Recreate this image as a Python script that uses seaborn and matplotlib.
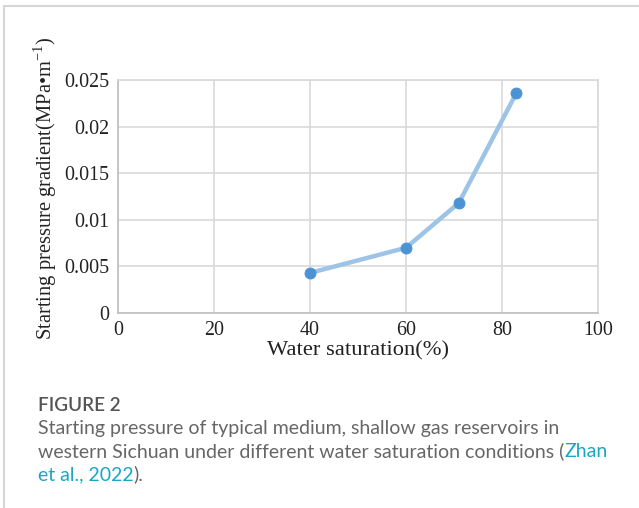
import matplotlib
matplotlib.use("Agg")
import matplotlib.pyplot as plt
import seaborn as sns
import pandas as pd
from matplotlib.lines import Line2D

# ---- data ----
water_saturation = [40, 60, 71, 83]
start_gradient = [0.0043, 0.0070, 0.0118, 0.0236]
x_ticks = [0, 20, 40, 60, 80, 100]
y_ticks = [0, 0.005, 0.01, 0.015, 0.02, 0.025]
y_tick_labels = ["0", "0.005", "0.01", "0.015", "0.02", "0.025"]

sns.set_theme(style="white")
plt.rcParams["font.family"] = ["Liberation Serif", "DejaVu Serif"]
plt.rcParams["mathtext.fontset"] = "custom"
plt.rcParams["mathtext.rm"] = "Liberation Serif"

W, H = 639, 508
fig = plt.figure(figsize=(W / 100, H / 100), dpi=100)
fig.patch.set_facecolor("white")

ax = fig.add_axes([118 / W, 1 - 313 / H, 480 / W, 233 / H])
df = pd.DataFrame({"x": water_saturation, "y": start_gradient})
sns.lineplot(data=df, x="x", y="y", ax=ax, color="#9DC3E6", linewidth=3.2,
             marker="o", markersize=7.8, markerfacecolor="#4C93D6",
             markeredgecolor="#4C93D6", zorder=3)

ax.set_xlim(0, 100)
ax.set_ylim(0, 0.025)
ax.set_xticks(x_ticks)
ax.set_xticklabels([str(t) for t in x_ticks])
ax.set_yticks(y_ticks)
ax.set_yticklabels(y_tick_labels)
ax.grid(True, color="#D9D9D9", linewidth=1.2)
ax.set_axisbelow(True)
for side in ["top", "right"]:
    ax.spines[side].set_color("#D9D9D9")
    ax.spines[side].set_linewidth(1.2)
for side in ["left", "bottom"]:
    ax.spines[side].set_color("#BFBFBF")
    ax.spines[side].set_linewidth(1.2)
ax.tick_params(axis="both", length=0, labelsize=14.4, colors="#222222", pad=6)
ax.set_xlabel("Water saturation(%)", fontsize=16.2, color="#222222", labelpad=1)
ax.set_ylabel(r"Starting pressure gradient(MPa•m$^{\mathregular{-1}}$)",
              fontsize=14.8, color="#222222")
ax.yaxis.set_label_coords(-73 / 480, (313 - 188) / 233)
ax.yaxis.label.set_va("center")

# ---- frame ----
bc = "#D6D6D6"
fig.add_artist(Line2D([4 / W, 1], [1 - 6 / H, 1 - 6 / H], color=bc, linewidth=1.5,
                      transform=fig.transFigure))
fig.add_artist(Line2D([4 / W, 4 / W], [0, 1 - 6 / H], color=bc, linewidth=1.5,
                      transform=fig.transFigure))

# ---- caption ----
cap_font = ["Lato", "DejaVu Sans"]
gray = "#666666"
cyan = "#1AA6C4"
fs = 14
x0 = 38 / W
fig.text(x0, 1 - 411 / H, "FIGURE 2", fontsize=13.6, color="#555555",
         family=cap_font, fontweight="semibold", va="baseline")
fig.text(x0, 1 - 434 / H,
         "Starting pressure of typical medium, shallow gas reservoirs in",
         fontsize=fs, color=gray, family=cap_font, va="baseline")

fig.canvas.draw()
renderer = fig.canvas.get_renderer()
inv = fig.transFigure.inverted()

def chain(parts, y):
    x = x0
    for s, c in parts:
        t = fig.text(x, y, s, fontsize=fs, color=c, family=cap_font, va="baseline")
        bb = t.get_window_extent(renderer=renderer)
        x = inv.transform((bb.x1, bb.y0))[0]

chain([("western Sichuan under different water saturation conditions (", gray),
       ("Zhan", cyan)], 1 - 457 / H)
chain([("et al., 2022", cyan), (").", gray)], 1 - 480 / H)

fig.savefig("out.png", dpi=100, facecolor="white")
